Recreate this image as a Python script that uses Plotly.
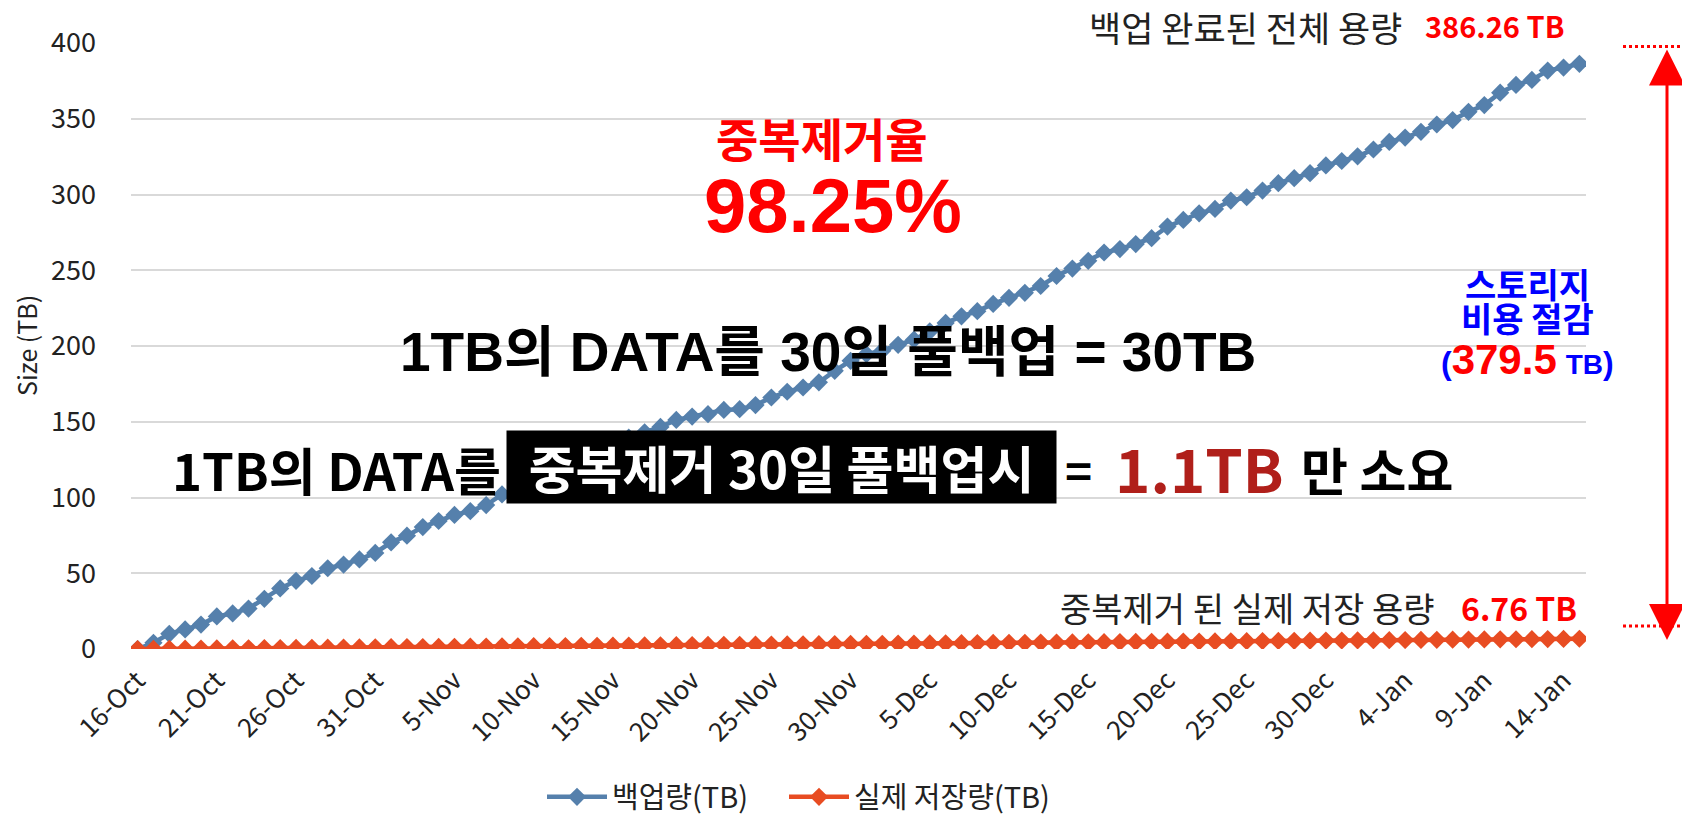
import pandas as pd
import plotly.graph_objects as go

# ---------------- data ----------------
start_date = "2017-10-16"
backup_tb = [
    0, 4.1, 10, 12.9, 16.1, 21.5, 23.5, 26.7, 33.1, 40,
    45, 48.2, 53.3, 55.7, 59.1, 63.4, 70.4, 74.8, 80.5, 84.5,
    88.5, 91, 95, 102, 106, 111.5, 116, 120.5, 126, 130.5,
    135, 139.5, 143, 146.6, 151.2, 153.4, 155, 157.8, 158.3, 161,
    166, 169.8, 172.6, 176, 183.6, 190.2, 194.6, 196.9, 200.8, 204.2,
    209.7, 215.2, 219.6, 223, 227.8, 231.8, 235.1, 239.6, 246.2, 251.1,
    256.2, 261.7, 264, 267.3, 271.2, 278.8, 283.2, 287.6, 290.5, 296,
    298.2, 302.6, 307.5, 310.8, 314.1, 319.2, 322.1, 325.2, 329.7, 334.7,
    337.6, 341.4, 346.2, 349.1, 354.6, 359, 367.2, 372.3, 375.6, 381.8,
    383.8, 386.26,
]
stored_tb = [
    0.00, 0.08, 0.15, 0.22, 0.30, 0.37, 0.44, 0.51, 0.59, 0.66,
    0.74, 0.81, 0.89, 0.96, 1.03, 1.11, 1.18, 1.26, 1.33, 1.40,
    1.48, 1.55, 1.62, 1.70, 1.77, 1.85, 1.92, 1.99, 2.07, 2.14,
    2.22, 2.29, 2.36, 2.44, 2.51, 2.59, 2.66, 2.73, 2.81, 2.88,
    2.96, 3.03, 3.10, 3.18, 3.25, 3.33, 3.40, 3.47, 3.55, 3.62,
    3.70, 3.77, 3.84, 3.92, 3.99, 4.07, 4.14, 4.21, 4.29, 4.36,
    4.44, 4.51, 4.58, 4.66, 4.73, 4.81, 4.88, 4.95, 5.03, 5.10,
    5.18, 5.25, 5.32, 5.40, 5.47, 5.55, 5.62, 5.69, 5.77, 5.84,
    5.92, 5.99, 6.06, 6.14, 6.21, 6.29, 6.36, 6.43, 6.51, 6.58,
    6.68, 6.76,
]
tick_labels = ["16-Oct", "21-Oct", "26-Oct", "31-Oct", "5-Nov", "10-Nov", "15-Nov",
               "20-Nov", "25-Nov", "30-Nov", "5-Dec", "10-Dec", "15-Dec", "20-Dec",
               "25-Dec", "30-Dec", "4-Jan", "9-Jan", "14-Jan"]
y_ticks = [0, 50, 100, 150, 200, 250, 300, 350, 400]
series_names = ["백업량(TB)", "실제 저장량(TB)"]

dates = pd.date_range(start_date, periods=len(backup_tb), freq="D")

# ---------------- layout geometry (screen pixels) ----------------
OFF = 8                      # default page body margin
W, H = 1690 - 2 * OFF, 823 - 2 * OFF
PL, PR, PT, PB = 131, 1586, 43, 649
PW, PH = PR - PL, PB - PT


def fx(px):
    return (px - PL) / PW


def fy(py):
    return (PB - py) / PH


KR = "Noto Sans CJK KR"
ARIAL = "Liberation Sans, Arial, Noto Sans CJK KR"
BLUE = "#5580AC"
ORANGE = "#E84C22"

fig = go.Figure()
fig.add_trace(go.Scatter(
    x=dates, y=backup_tb, name=series_names[0], mode="lines+markers",
    line=dict(color=BLUE, width=4.5),
    marker=dict(symbol="diamond", size=14, color=BLUE),
    legend="legend",
))
fig.add_trace(go.Scatter(
    x=dates, y=stored_tb, name=series_names[1], mode="lines+markers",
    line=dict(color=ORANGE, width=4.5),
    marker=dict(symbol="diamond", size=14, color=ORANGE),
    legend="legend2",
))

pad = pd.Timedelta(hours=10)
fig.update_xaxes(
    type="date",
    range=[dates[0] - pad, dates[-1] + pad],
    tickvals=list(dates[::5]), ticktext=tick_labels,
    tickangle=-45, tickfont=dict(family=KR, size=26, color="#222"),
    showgrid=False, showline=False, zeroline=False, ticks="", ticklabelstandoff=10,
)
fig.update_yaxes(
    range=[0, 400], tickvals=y_ticks,
    tickfont=dict(family=KR, size=27, color="#222"),
    showgrid=True, gridcolor="#D9D9D9", gridwidth=1.5,
    zeroline=False, showline=False, ticks="", ticklabelstandoff=34,
)

ann = []


def add_text(text, x, y, size, color="#000", family=KR, bold=False, xanchor="center", **kw):
    t = f"<b>{text}</b>" if bold else text
    d = dict(text=t, x=fx(x), y=fy(y), xref="paper", yref="paper", showarrow=False,
             xanchor=xanchor, yanchor="middle", font=dict(family=family, size=size, color=color))
    d.update(kw)
    ann.append(d)


# axis title
add_text("Size (TB)", 26, 346, 25, color="#222", textangle=-90)

# top right label
add_text("백업 완료된 전체 용량", 1404, 26, 35, color="#222", xanchor="right")
add_text("386.26 TB", 1566, 25, 29, color="#FF0000", bold=True, xanchor="right")

# dedupe ratio
add_text("중복제거율", 822, 137, 46, color="#FF0000", bold=True)
add_text("98.25%", 833, 205, 76, color="#FF0000", family=ARIAL, bold=True)

# full backup line
add_text("1TB의 DATA를 30일 풀백업 = 30TB", 828, 352, 55, color="#000", family=ARIAL, bold=True)

# dedupe line
add_text("1TB의 DATA를", 503, 469, 51, color="#000", bold=True, xanchor="right")
ann.append(dict(text="<b>중복제거 30일 풀백업시</b>", x=fx(781.5), y=fy(467), xref="paper", yref="paper",
                showarrow=False, xanchor="center", yanchor="middle", width=549, height=72,
                bgcolor="#000000", borderpad=0,
                font=dict(family=KR, size=51, color="#FFFFFF")))
add_text("=", 1078, 469, 46, color="#000", bold=True)
add_text("1.1TB", 1113, 466, 60, color="#B01F1A", bold=True, xanchor="left")
add_text("만 소요", 1299, 469, 51, color="#000", bold=True, xanchor="left")

# bottom right label
add_text("중복제거 된 실제 저장 용량", 1437, 607, 34, color="#222", xanchor="right")
add_text("6.76 TB", 1579, 607, 32, color="#FF0000", bold=True, xanchor="right")

# savings label
add_text("스토리지", 1527, 283, 34, color="#0000FF", bold=True)
add_text("비용 절감", 1527, 317, 34, color="#0000FF", bold=True)
add_text("(<span style='color:#FF0000;font-size:42px'>379.5</span> <span style='font-size:28px'>TB</span>)",
         1527, 359, 32, color="#0000FF", family=ARIAL, bold=True)

# double arrow
ann.append(dict(x=fx(1667), y=fy(640), xref="paper", yref="paper", ax=0, ay=-(640 - 48),
                axref="pixel", ayref="pixel", showarrow=True, arrowhead=2, startarrowhead=2,
                arrowside="end+start", arrowsize=2.4, startarrowsize=2.4, arrowwidth=3,
                arrowcolor="#FF0000", text=""))

shapes = [
    dict(type="line", xref="paper", yref="paper", x0=fx(1623), x1=fx(1690), y0=fy(46.5), y1=fy(46.5),
         line=dict(color="#FF0000", width=3, dash="dot")),
    dict(type="line", xref="paper", yref="paper", x0=fx(1623), x1=fx(1690), y0=fy(626), y1=fy(626),
         line=dict(color="#FF0000", width=3, dash="dot")),
]

legend_style = dict(orientation="h", xanchor="left", yanchor="middle",
                    font=dict(family=KR, size=29, color="#222"), itemwidth=60,
                    bgcolor="rgba(0,0,0,0)")

fig.update_layout(
    width=W, height=H,
    margin=dict(l=PL - OFF, r=(OFF + W) - PR, t=PT - OFF, b=(OFF + H) - PB, autoexpand=False),
    paper_bgcolor="#FFFFFF", plot_bgcolor="#FFFFFF",
    annotations=ann, shapes=shapes,
    showlegend=True,
    legend=dict(x=fx(542), y=fy(797), **legend_style),
    legend2=dict(x=fx(784), y=fy(797), **legend_style),
)

fig.write_html("out.html")
